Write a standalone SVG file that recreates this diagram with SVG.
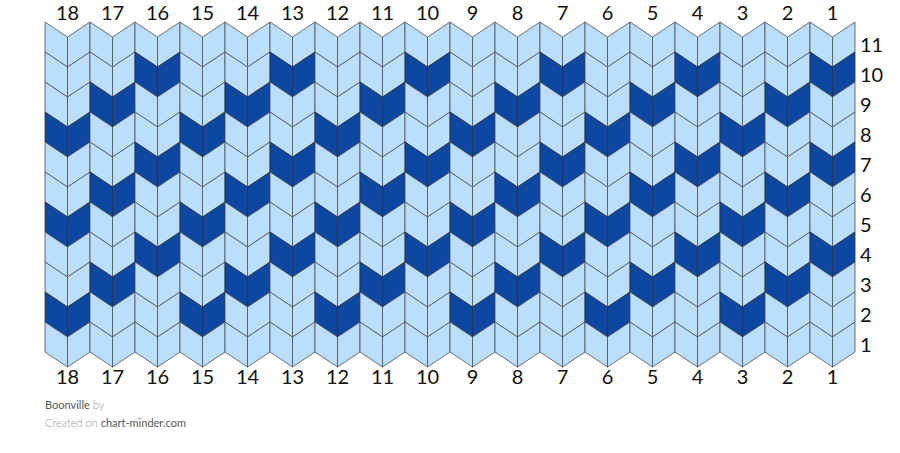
<svg xmlns="http://www.w3.org/2000/svg" xmlns:xlink="http://www.w3.org/1999/xlink" width="900" height="453" viewBox="0 0 900 453">
<style>
.lt polygon{fill:#bbdefb;stroke:#4a4f57;stroke-width:0.8;stroke-linejoin:round}
.dk polygon{fill:#0d47a1;stroke:#2a2f3a;stroke-width:0.8;stroke-linejoin:round}
.num{font-family:Lato,"Liberation Sans",sans-serif;font-size:20px;fill:#111}
.top,.bot{text-anchor:middle}
.foot{font-family:Lato,"Liberation Sans",sans-serif;font-size:11px}
.dim{fill:#9a9a9a;font-weight:300}
.strong{fill:#555555}
</style>
<defs>
<g id="L" class="lt"><polygon points="0,0 22.5,15 22.5,45 0,30"/><polygon points="22.5,15 45,0 45,30 22.5,45"/></g>
<g id="D" class="dk"><polygon points="0,0 22.5,15 22.5,45 0,30"/><polygon points="22.5,15 45,0 45,30 22.5,45"/></g>
</defs>
<rect width="900" height="453" fill="#ffffff"/>
<g id="stitches">
<g id="col18" transform="translate(45,0)"><use href="#L" y="22"/><use href="#L" y="52"/><use href="#L" y="82"/><use href="#D" y="112"/><use href="#L" y="142"/><use href="#L" y="172"/><use href="#D" y="202"/><use href="#L" y="232"/><use href="#L" y="262"/><use href="#D" y="292"/><use href="#L" y="322"/></g>
<g id="col17" transform="translate(90,0)"><use href="#L" y="22"/><use href="#L" y="52"/><use href="#D" y="82"/><use href="#L" y="112"/><use href="#L" y="142"/><use href="#D" y="172"/><use href="#L" y="202"/><use href="#L" y="232"/><use href="#D" y="262"/><use href="#L" y="292"/><use href="#L" y="322"/></g>
<g id="col16" transform="translate(135,0)"><use href="#L" y="22"/><use href="#D" y="52"/><use href="#L" y="82"/><use href="#L" y="112"/><use href="#D" y="142"/><use href="#L" y="172"/><use href="#L" y="202"/><use href="#D" y="232"/><use href="#L" y="262"/><use href="#L" y="292"/><use href="#L" y="322"/></g>
<g id="col15" transform="translate(180,0)"><use href="#L" y="22"/><use href="#L" y="52"/><use href="#L" y="82"/><use href="#D" y="112"/><use href="#L" y="142"/><use href="#L" y="172"/><use href="#D" y="202"/><use href="#L" y="232"/><use href="#L" y="262"/><use href="#D" y="292"/><use href="#L" y="322"/></g>
<g id="col14" transform="translate(225,0)"><use href="#L" y="22"/><use href="#L" y="52"/><use href="#D" y="82"/><use href="#L" y="112"/><use href="#L" y="142"/><use href="#D" y="172"/><use href="#L" y="202"/><use href="#L" y="232"/><use href="#D" y="262"/><use href="#L" y="292"/><use href="#L" y="322"/></g>
<g id="col13" transform="translate(270,0)"><use href="#L" y="22"/><use href="#D" y="52"/><use href="#L" y="82"/><use href="#L" y="112"/><use href="#D" y="142"/><use href="#L" y="172"/><use href="#L" y="202"/><use href="#D" y="232"/><use href="#L" y="262"/><use href="#L" y="292"/><use href="#L" y="322"/></g>
<g id="col12" transform="translate(315,0)"><use href="#L" y="22"/><use href="#L" y="52"/><use href="#L" y="82"/><use href="#D" y="112"/><use href="#L" y="142"/><use href="#L" y="172"/><use href="#D" y="202"/><use href="#L" y="232"/><use href="#L" y="262"/><use href="#D" y="292"/><use href="#L" y="322"/></g>
<g id="col11" transform="translate(360,0)"><use href="#L" y="22"/><use href="#L" y="52"/><use href="#D" y="82"/><use href="#L" y="112"/><use href="#L" y="142"/><use href="#D" y="172"/><use href="#L" y="202"/><use href="#L" y="232"/><use href="#D" y="262"/><use href="#L" y="292"/><use href="#L" y="322"/></g>
<g id="col10" transform="translate(405,0)"><use href="#L" y="22"/><use href="#D" y="52"/><use href="#L" y="82"/><use href="#L" y="112"/><use href="#D" y="142"/><use href="#L" y="172"/><use href="#L" y="202"/><use href="#D" y="232"/><use href="#L" y="262"/><use href="#L" y="292"/><use href="#L" y="322"/></g>
<g id="col9" transform="translate(450,0)"><use href="#L" y="22"/><use href="#L" y="52"/><use href="#L" y="82"/><use href="#D" y="112"/><use href="#L" y="142"/><use href="#L" y="172"/><use href="#D" y="202"/><use href="#L" y="232"/><use href="#L" y="262"/><use href="#D" y="292"/><use href="#L" y="322"/></g>
<g id="col8" transform="translate(495,0)"><use href="#L" y="22"/><use href="#L" y="52"/><use href="#D" y="82"/><use href="#L" y="112"/><use href="#L" y="142"/><use href="#D" y="172"/><use href="#L" y="202"/><use href="#L" y="232"/><use href="#D" y="262"/><use href="#L" y="292"/><use href="#L" y="322"/></g>
<g id="col7" transform="translate(540,0)"><use href="#L" y="22"/><use href="#D" y="52"/><use href="#L" y="82"/><use href="#L" y="112"/><use href="#D" y="142"/><use href="#L" y="172"/><use href="#L" y="202"/><use href="#D" y="232"/><use href="#L" y="262"/><use href="#L" y="292"/><use href="#L" y="322"/></g>
<g id="col6" transform="translate(585,0)"><use href="#L" y="22"/><use href="#L" y="52"/><use href="#L" y="82"/><use href="#D" y="112"/><use href="#L" y="142"/><use href="#L" y="172"/><use href="#D" y="202"/><use href="#L" y="232"/><use href="#L" y="262"/><use href="#D" y="292"/><use href="#L" y="322"/></g>
<g id="col5" transform="translate(630,0)"><use href="#L" y="22"/><use href="#L" y="52"/><use href="#D" y="82"/><use href="#L" y="112"/><use href="#L" y="142"/><use href="#D" y="172"/><use href="#L" y="202"/><use href="#L" y="232"/><use href="#D" y="262"/><use href="#L" y="292"/><use href="#L" y="322"/></g>
<g id="col4" transform="translate(675,0)"><use href="#L" y="22"/><use href="#D" y="52"/><use href="#L" y="82"/><use href="#L" y="112"/><use href="#D" y="142"/><use href="#L" y="172"/><use href="#L" y="202"/><use href="#D" y="232"/><use href="#L" y="262"/><use href="#L" y="292"/><use href="#L" y="322"/></g>
<g id="col3" transform="translate(720,0)"><use href="#L" y="22"/><use href="#L" y="52"/><use href="#L" y="82"/><use href="#D" y="112"/><use href="#L" y="142"/><use href="#L" y="172"/><use href="#D" y="202"/><use href="#L" y="232"/><use href="#L" y="262"/><use href="#D" y="292"/><use href="#L" y="322"/></g>
<g id="col2" transform="translate(765,0)"><use href="#L" y="22"/><use href="#L" y="52"/><use href="#D" y="82"/><use href="#L" y="112"/><use href="#L" y="142"/><use href="#D" y="172"/><use href="#L" y="202"/><use href="#L" y="232"/><use href="#D" y="262"/><use href="#L" y="292"/><use href="#L" y="322"/></g>
<g id="col1" transform="translate(810,0)"><use href="#L" y="22"/><use href="#D" y="52"/><use href="#L" y="82"/><use href="#L" y="112"/><use href="#D" y="142"/><use href="#L" y="172"/><use href="#L" y="202"/><use href="#D" y="232"/><use href="#L" y="262"/><use href="#L" y="292"/><use href="#L" y="322"/></g>
</g>
<g id="top-labels" class="num top">
<text x="67.5" y="20">18</text><text x="112.5" y="20">17</text><text x="157.5" y="20">16</text><text x="202.5" y="20">15</text><text x="247.5" y="20">14</text><text x="292.5" y="20">13</text><text x="337.5" y="20">12</text><text x="382.5" y="20">11</text><text x="427.5" y="20">10</text><text x="472.5" y="20">9</text><text x="517.5" y="20">8</text><text x="562.5" y="20">7</text><text x="607.5" y="20">6</text><text x="652.5" y="20">5</text><text x="697.5" y="20">4</text><text x="742.5" y="20">3</text><text x="787.5" y="20">2</text><text x="832.5" y="20">1</text>
</g>
<g id="bottom-labels" class="num bot">
<text x="67.5" y="384">18</text><text x="112.5" y="384">17</text><text x="157.5" y="384">16</text><text x="202.5" y="384">15</text><text x="247.5" y="384">14</text><text x="292.5" y="384">13</text><text x="337.5" y="384">12</text><text x="382.5" y="384">11</text><text x="427.5" y="384">10</text><text x="472.5" y="384">9</text><text x="517.5" y="384">8</text><text x="562.5" y="384">7</text><text x="607.5" y="384">6</text><text x="652.5" y="384">5</text><text x="697.5" y="384">4</text><text x="742.5" y="384">3</text><text x="787.5" y="384">2</text><text x="832.5" y="384">1</text>
</g>
<g id="row-labels" class="num">
<text x="860" y="52">11</text><text x="860" y="82">10</text><text x="860" y="112">9</text><text x="860" y="142">8</text><text x="860" y="172">7</text><text x="860" y="202">6</text><text x="860" y="232">5</text><text x="860" y="262">4</text><text x="860" y="292">3</text><text x="860" y="322">2</text><text x="860" y="352">1</text>
</g>
<g id="footer" class="foot">
<text x="45" y="409"><tspan class="strong">Boonville</tspan><tspan class="dim"> by</tspan></text>
<text x="45" y="427"><tspan class="dim">Created on </tspan><tspan class="strong">chart-minder.com</tspan></text>
</g>
</svg>
